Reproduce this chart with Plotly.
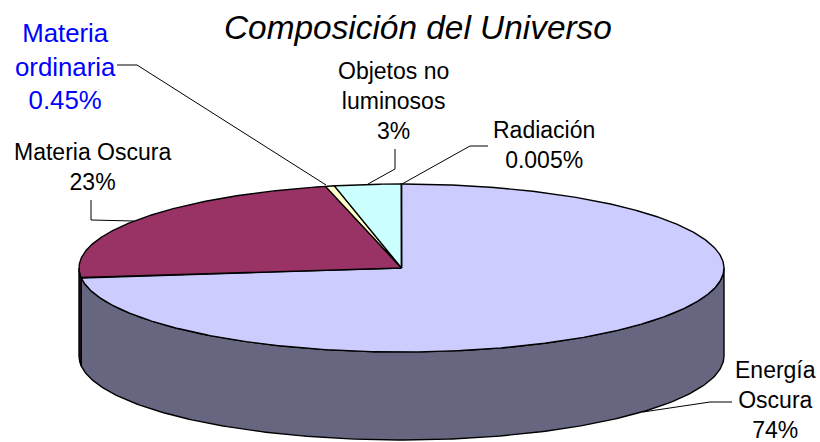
import numpy as np
import plotly.graph_objects as go

categories = ["Energía<br>Oscura", "Materia Oscura", "Materia<br>ordinaria", "Objetos no<br>luminosos", "Radiación"]
values = [73.1, 23.1, 0.45, 3.33, 0.005]
value_labels = ["74%", "23%", "0.45%", "3%", "0.005%"]
top_colors = ["#CCCCFF", "#993366", "#FFFFCC", "#CCFFFF", "#E8E8F8"]
side_colors = ["#666680", "#2E1020", "#808066", "#668080", "#666680"]
label_colors = ["#000000", "#000000", "#0000FF", "#000000", "#000000"]
label_sizes = [23, 23, 25.8, 23, 23]
label_x = [775, 92, 65, 393, 544]
label_y = [400, 167, 66, 101, 144.5]
leaders = [
    ([643, 710, 732], [412, 402, 402]),
    ([91, 91, 134], [200, 220, 221]),
    ([117, 137, 326], [65, 65, 185]),
    ([395, 395, 368], [149, 169, 184]),
    ([402, 470, 488], [184, 146, 146]),
]
title = "Composición del Universo"

CX, CY, RX, RY, DEPTH = 401.5, 268, 322.5, 84, 88

def pt(theta):
    t = np.radians(theta)
    return CX + RX * np.sin(t), CY - RY * np.cos(t)

edges = np.concatenate([[0], np.cumsum(values)]) / np.sum(values) * 360
fig = go.Figure()

for i in range(len(values)):
    a, b = max(edges[i], 90), min(edges[i + 1], 270)
    if b <= a:
        continue
    th = np.linspace(a, b, 200)
    x, y = pt(th)
    fig.add_trace(go.Scatter(
        x=np.concatenate([x, x[::-1], x[:1]]),
        y=np.concatenate([y, y[::-1] + DEPTH, y[:1]]),
        mode="lines", fill="toself", fillcolor=side_colors[i],
        line=dict(color="black", width=1.4), hoverinfo="skip", showlegend=False))

for i in range(len(values)):
    th = np.linspace(edges[i], edges[i + 1], max(3, int((edges[i + 1] - edges[i]) * 3)))
    x, y = pt(th)
    fig.add_trace(go.Scatter(
        x=np.concatenate([[CX], x, [CX]]),
        y=np.concatenate([[CY], y, [CY]]),
        mode="lines", fill="toself", fillcolor=top_colors[i],
        line=dict(color="black", width=1.4), hoverinfo="skip", showlegend=False))

for lx, ly in leaders:
    fig.add_trace(go.Scatter(x=lx, y=ly, mode="lines", line=dict(color="black", width=1),
                             hoverinfo="skip", showlegend=False))

for i, cat in enumerate(categories):
    fig.add_annotation(x=label_x[i], y=label_y[i], xref="x", yref="y", showarrow=False,
                       text=f"{cat}<br>{value_labels[i]}", align="center",
                       xanchor="center", yanchor="middle",
                       font=dict(family="Liberation Sans", size=label_sizes[i], color=label_colors[i]))

fig.add_annotation(x=418, y=27, xref="x", yref="y", showarrow=False, text=f"<i>{title}</i>",
                   xanchor="center", yanchor="middle",
                   font=dict(family="Liberation Sans", size=33.4, color="black"))

fig.update_layout(width=820, height=442, margin=dict(l=0, r=0, t=0, b=0),
                  paper_bgcolor="white", plot_bgcolor="white", showlegend=False,
                  xaxis=dict(range=[0, 820], visible=False, fixedrange=True),
                  yaxis=dict(range=[442, 0], visible=False, fixedrange=True))
fig.write_html("out.html", config=dict(displayModeBar=False),
               post_script="document.body.style.margin='0';document.body.style.overflow='hidden';")
